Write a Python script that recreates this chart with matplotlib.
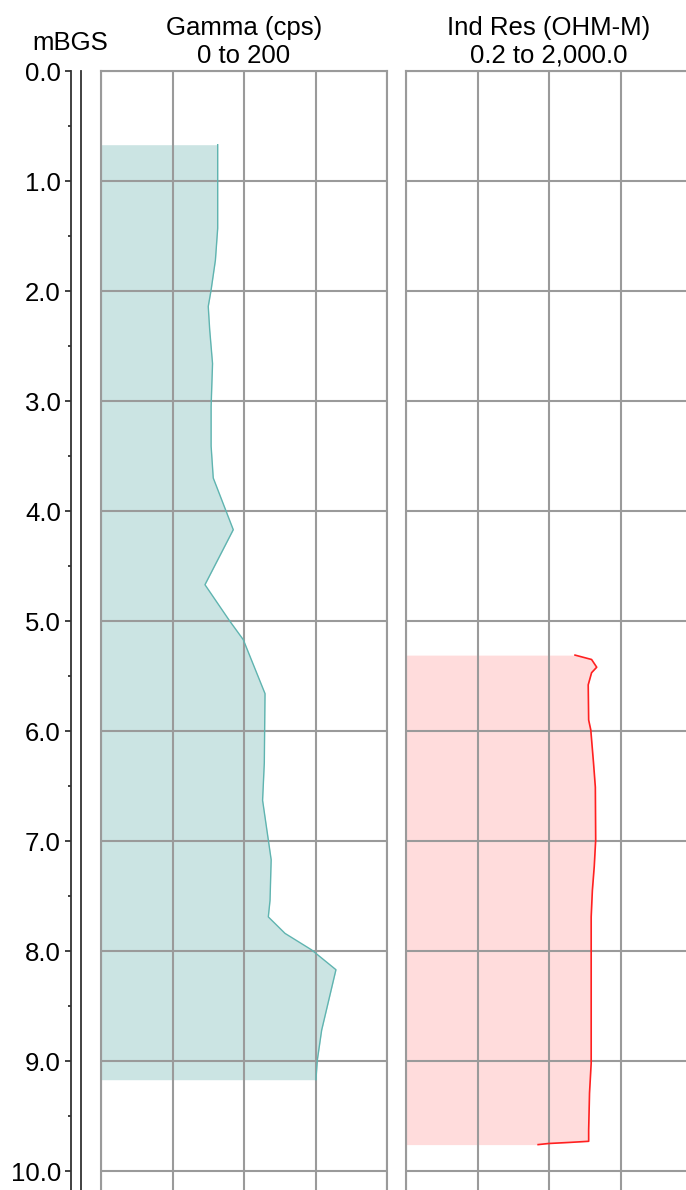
import numpy as np
import matplotlib
matplotlib.use("Agg")
import matplotlib.pyplot as plt
from matplotlib.ticker import MultipleLocator, LogLocator, NullFormatter, FormatStrFormatter

plt.rcParams['font.family'] = ['Liberation Sans', 'DejaVu Sans']

# gamma log (depth m, cps)
gamma_depth = [0.67, 1.43, 1.72, 1.99, 2.14, 2.35, 2.66, 3.05, 3.41, 3.70, 4.17, 4.67,
               5.00, 5.17, 5.66, 6.29, 6.63, 6.99, 7.17, 7.54, 7.69, 7.84, 7.99, 8.17,
               8.72, 8.99, 9.17]
gamma_cps = [81.6, 81.6, 80, 77, 75, 76, 78, 77, 77, 78.5, 92.5, 72.7,
             90, 99.5, 114.7, 114.2, 113, 117, 119, 118.2, 117, 128.7, 147.3, 164.3,
             154.3, 151.3, 150.3]

# induction resistivity (depth m, ohm-m)
res_depth = [5.31, 5.35, 5.42, 5.47, 5.58, 5.90, 5.99, 6.29, 6.51, 6.99, 7.23, 7.45,
             7.69, 9.02, 9.29, 9.63, 9.73, 9.74, 9.75, 9.76]
res_ohm = [45.8, 78, 92, 78, 70, 71, 76, 83, 88, 89, 85, 80,
           77, 77, 73, 71, 71, 39, 19.6, 14]

W, H = 686, 1190
fig = plt.figure(figsize=(W / 100, H / 100), dpi=100)

top_px = 71
px_per_m = 110
dmax = (H - top_px) / px_per_m
ax_h = (H - top_px) / H
grid_c = '#9a9a9a'
fs = 18.5


def frame(ax):
    ax.set_ylim(dmax, 0)
    for s in ['top', 'left', 'right']:
        ax.spines[s].set_color(grid_c)
        ax.spines[s].set_linewidth(1.5)
    ax.spines['bottom'].set_visible(False)
    ax.set_axisbelow(False)
    ax.yaxis.set_major_locator(MultipleLocator(1))
    ax.grid(True, which='major', color=grid_c, linewidth=1.5)
    ax.tick_params(left=False, bottom=False, labelleft=False, labelbottom=False, which='both')


# depth axis
axd = fig.add_axes([70.7 / W, 0, 10 / W, ax_h])
axd.set_ylim(dmax, 0)
axd.set_xticks([])
for s in ['top', 'bottom']:
    axd.spines[s].set_visible(False)
axd.spines['left'].set_color('#333333')
axd.spines['right'].set_color('#333333')
axd.spines['left'].set_linewidth(1.3)
axd.spines['right'].set_linewidth(1.3)
axd.yaxis.set_major_locator(MultipleLocator(1))
axd.yaxis.set_minor_locator(MultipleLocator(0.5))
axd.yaxis.set_major_formatter(FormatStrFormatter('%.1f'))
axd.tick_params(axis='y', which='major', length=4, width=1.3, color='#333333', pad=3, labelsize=fs)
axd.tick_params(axis='y', which='minor', length=2.5, width=1.3, color='#333333')
axd.set_ylim(dmax, 0)

# gamma track
ax1 = fig.add_axes([101 / W, 0, 286 / W, ax_h])
ax1.set_xlim(0, 200)
ax1.xaxis.set_major_locator(MultipleLocator(50))
frame(ax1)
ax1.fill_betweenx(gamma_depth, 0, gamma_cps, color='#cbe4e3', linewidth=0, zorder=1)
ax1.plot(gamma_cps, gamma_depth, color='#5fb4b0', linewidth=1.0, zorder=3)

# resistivity track
ax2 = fig.add_axes([406 / W, 0, 286.5 / W, ax_h])
ax2.set_xscale('log')
ax2.set_xlim(0.2, 2000)
ax2.xaxis.set_major_locator(LogLocator(base=10, subs=[2.0]))
ax2.xaxis.set_minor_locator(LogLocator(base=10, subs=[]))
ax2.xaxis.set_major_formatter(NullFormatter())
frame(ax2)
ax2.fill_betweenx(res_depth, 0.2, res_ohm, color='#ffdcdc', linewidth=0, zorder=1)
ax2.plot(res_ohm, res_depth, color='#ff2020', linewidth=1.2, zorder=3)

# headers
fig.text(70 / W, 1 - 50 / H, 'mBGS', ha='center', va='baseline', fontsize=fs)
fig.text(244 / W, 1 - 35 / H, 'Gamma (cps)', ha='center', va='baseline', fontsize=fs)
fig.text(244 / W, 1 - 63 / H, '0 to 200', ha='center', va='baseline', fontsize=fs)
fig.text(549 / W, 1 - 35 / H, 'Ind Res (OHM-M)', ha='center', va='baseline', fontsize=fs)
fig.text(549 / W, 1 - 63 / H, '0.2 to 2,000.0', ha='center', va='baseline', fontsize=fs)

fig.savefig('out.png', dpi=100)
